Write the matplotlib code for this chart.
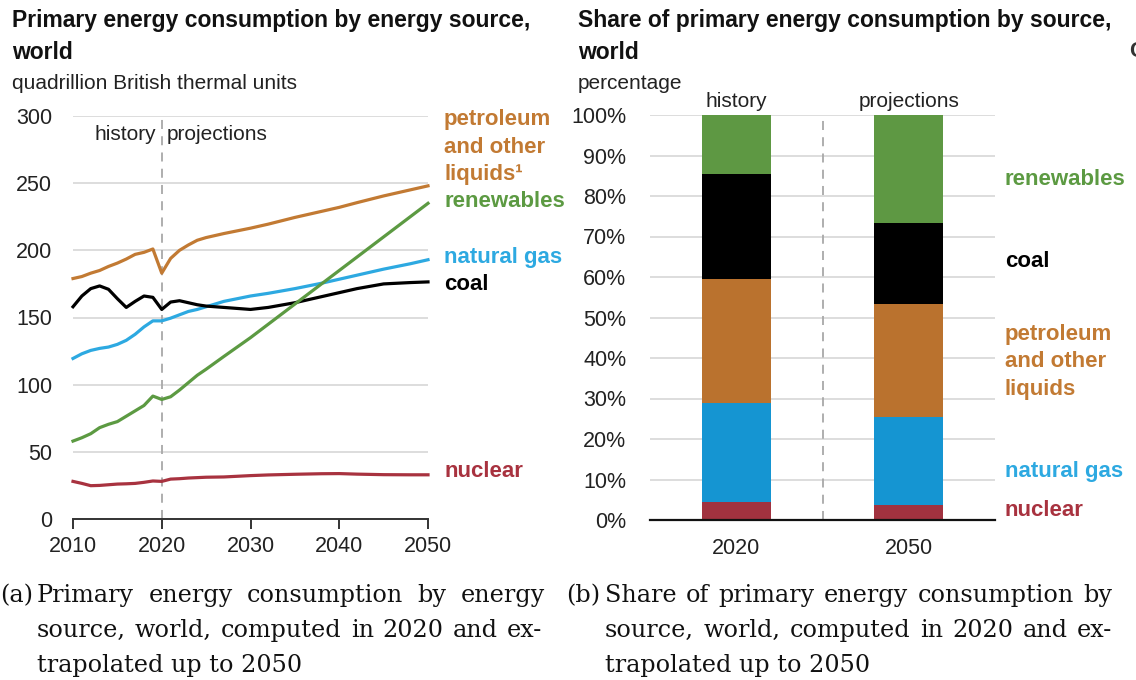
import matplotlib
matplotlib.use("Agg")
import matplotlib.pyplot as plt

# Data
YEARS = [2010, 2011, 2012, 2013, 2014, 2015, 2016, 2017, 2018, 2019, 2020,
         2021, 2022, 2023, 2024, 2025, 2027, 2030, 2032, 2035, 2038, 2040,
         2042, 2045, 2048, 2050]
PETROLEUM = [179, 180.5, 183, 185, 188, 190.5, 193.5, 197, 198.5, 201, 183,
             194, 200, 204, 207.5, 209.5, 212.5, 216.5, 219.5, 224.5, 229, 232,
             235.5, 240.5, 245, 248]
RENEWABLES = [58, 60.5, 63.5, 68, 70.5, 72.5, 76.5, 80.5, 84.5, 91.5, 89,
              91, 96, 101.5, 107, 111.5, 121, 135, 145, 160, 175, 185,
              195, 210, 225, 235]
NATURAL_GAS = [119.5, 123, 125.5, 127, 128, 130, 133, 137.5, 143, 147.5, 147.5,
               149.5, 152, 154.5, 156, 158, 162, 166, 168, 171.5, 175.5, 178.5,
               181.5, 186, 190, 193]
COAL = [158, 166, 171.5, 173.5, 171, 164, 157.5, 162, 166, 165, 156,
        161.5, 162.5, 161, 159.5, 158.5, 157.5, 156, 157.5, 161, 165.5, 168.5,
        171.5, 175, 176, 176.5]
NUCLEAR = [28, 26.5, 24.8, 25, 25.5, 26, 26.2, 26.5, 27.3, 28.3, 28,
           29.7, 30, 30.5, 30.8, 31.1, 31.3, 32.3, 32.8, 33.3, 33.7, 33.8,
           33.4, 33, 32.9, 32.9]

SHARE_YEARS = ["2020", "2050"]
SHARE_NUCLEAR = [4.5, 3.6]
SHARE_GAS = [24.5, 21.8]
SHARE_PETROLEUM = [30.4, 28.0]
SHARE_COAL = [26.0, 20.0]
SHARE_RENEWABLES = [14.6, 26.6]

# Colours
C_PET = "#C27A33"
C_REN = "#5C9A42"
C_GAS = "#2DA9E1"
C_COAL = "#000000"
C_NUC = "#A8323F"
BAR_PET = "#BA722E"
BAR_REN = "#5E9843"
BAR_GAS = "#1595D2"
BAR_NUC = "#A1323F"
GRID = "#DADADA"
DASH = "#A8A8A8"

W, H = 1136, 680
SANS = "Liberation Sans"
SERIF = "DejaVu Serif"
plt.rcParams["font.family"] = SANS

fig = plt.figure(figsize=(W / 100, H / 100), dpi=100)


def px(x, y):
    # pixel position (from top-left) to figure fraction
    return x / W, 1 - y / H


def ftext(x, y, s, **kw):
    fx, fy = px(x, y)
    return fig.text(fx, fy, s, va="baseline", **kw)


# ---------------- left panel: lines ----------------
ax1 = fig.add_axes([73 / W, 1 - 519 / H, 355 / W, 403 / H])
ax1.plot(YEARS, NUCLEAR, color=C_NUC, lw=2.3, clip_on=False, zorder=3)
ax1.plot(YEARS, NATURAL_GAS, color=C_GAS, lw=2.3, clip_on=False, zorder=3)
ax1.plot(YEARS, RENEWABLES, color=C_REN, lw=2.3, clip_on=False, zorder=4)
ax1.plot(YEARS, COAL, color=C_COAL, lw=2.3, clip_on=False, zorder=3)
ax1.plot(YEARS, PETROLEUM, color=C_PET, lw=2.3, clip_on=False, zorder=3)
ax1.axvline(2020, color=DASH, lw=1.3, dashes=(5, 4), zorder=2)

ax1.set_xlim(2010, 2050)
ax1.set_ylim(0, 300)
ax1.set_xticks([2010, 2020, 2030, 2040, 2050])
ax1.set_yticks([0, 50, 100, 150, 200, 250, 300])
ax1.grid(axis="y", color=GRID, lw=1.3)
ax1.set_axisbelow(True)
for side in ["top", "right", "left"]:
    ax1.spines[side].set_visible(False)
ax1.spines["bottom"].set_color("#333333")
ax1.spines["bottom"].set_linewidth(1.4)
ax1.tick_params(axis="x", length=7, width=1.4, color="#333333", pad=5,
                labelsize=15.5, labelcolor="#222222")
ax1.tick_params(axis="y", length=0, pad=15, labelsize=15.5, labelcolor="#222222")
ax1.text(2019.4, 282, "history", ha="right", va="baseline", fontsize=15,
         color="#222222")
ax1.text(2020.5, 282, "projections", ha="left", va="baseline", fontsize=15,
         color="#222222")

ftext(12, 27, "Primary energy consumption by energy source,", fontsize=16.5,
      fontweight="bold", color="#111111")
ftext(12, 59, "world", fontsize=16.5, fontweight="bold", color="#111111")
ftext(12, 89, "quadrillion British thermal units", fontsize=15, color="#222222")

lab = dict(fontsize=16, fontweight="bold")
ftext(444, 125, "petroleum", color=C_PET, **lab)
ftext(444, 153, "and other", color=C_PET, **lab)
ftext(444, 180, "liquids\u00b9", color=C_PET, **lab)
ftext(444, 207, "renewables", color=C_REN, **lab)
ftext(444, 263, "natural gas", color=C_GAS, **lab)
ftext(444, 290, "coal", color=C_COAL, **lab)
ftext(444, 477, "nuclear", color=C_NUC, **lab)

# ---------------- right panel: stacked shares ----------------
ax2 = fig.add_axes([650 / W, 1 - 520 / H, 345 / W, 405 / H])
xpos = [0, 1]
bw = 0.4
bottom = [0.0, 0.0]
for vals, col in [(SHARE_NUCLEAR, BAR_NUC), (SHARE_GAS, BAR_GAS),
                  (SHARE_PETROLEUM, BAR_PET), (SHARE_COAL, C_COAL),
                  (SHARE_RENEWABLES, BAR_REN)]:
    ax2.bar(xpos, vals, width=bw, bottom=bottom, color=col, zorder=3)
    bottom = [b + v for b, v in zip(bottom, vals)]
ax2.axvline(0.5, color=DASH, lw=1.3, dashes=(5, 4), zorder=2)

ax2.set_xlim(-0.5, 1.5)
ax2.set_ylim(0, 100)
ax2.set_xticks(xpos)
ax2.set_xticklabels(SHARE_YEARS)
ax2.set_yticks(range(0, 101, 10))
ax2.set_yticklabels([f"{v}%" for v in range(0, 101, 10)])
ax2.grid(axis="y", color=GRID, lw=1.3)
ax2.set_axisbelow(True)
for side in ["top", "right", "left"]:
    ax2.spines[side].set_visible(False)
ax2.spines["bottom"].set_color("#111111")
ax2.spines["bottom"].set_linewidth(1.6)
ax2.spines["bottom"].set_zorder(4)
ax2.tick_params(axis="x", length=0, pad=13, labelsize=15.5, labelcolor="#222222")
ax2.tick_params(axis="y", length=0, pad=17, labelsize=15.5, labelcolor="#222222")
ax2.text(0, 102, "history", ha="center", va="baseline", fontsize=15,
         color="#222222", clip_on=False)
ax2.text(1, 102, "projections", ha="center", va="baseline", fontsize=15,
         color="#222222", clip_on=False)

ftext(578, 27, "Share of primary energy consumption by source,", fontsize=16.5,
      fontweight="bold", color="#111111")
ftext(578, 59, "world", fontsize=16.5, fontweight="bold", color="#111111")
ftext(578, 89, "percentage", fontsize=15, color="#222222")

ftext(1005, 185, "renewables", color=C_REN, **lab)
ftext(1005, 267, "coal", color=C_COAL, **lab)
ftext(1005, 340, "petroleum", color=C_PET, **lab)
ftext(1005, 367, "and other", color=C_PET, **lab)
ftext(1005, 395, "liquids", color=C_PET, **lab)
ftext(1005, 477, "natural gas", color=C_GAS, **lab)
ftext(1005, 516, "nuclear", color=C_NUC, **lab)

# clipped glyph of the next panel at the right edge
ftext(1129, 57, "C", fontsize=16, fontweight="bold", color="#333333")

# ---------------- captions ----------------
renderer = fig.canvas.get_renderer()
CAP = dict(fontsize=17.2, family=SERIF, color="#111111")


def justified(words, x0, x1, y):
    texts = [ftext(x0, y, w, **CAP) for w in words]
    widths = [t.get_window_extent(renderer).width for t in texts]
    gap = (x1 - x0 - sum(widths)) / max(len(words) - 1, 1)
    x = x0
    for t, w in zip(texts, widths):
        t.set_x(x / W)
        x += w + gap


ftext(0, 602, "(a)", **CAP)
justified("Primary energy consumption by energy".split(), 37, 545, 602)
justified("source, world, computed in 2020 and ex-".split(), 37, 542, 637)
ftext(37, 672, "trapolated up to 2050", **CAP)

ftext(566, 602, "(b)", **CAP)
justified("Share of primary energy consumption by".split(), 605, 1112, 602)
justified("source, world, computed in 2020 and ex-".split(), 605, 1112, 637)
ftext(605, 672, "trapolated up to 2050", **CAP)

fig.savefig("out.png", dpi=100)
